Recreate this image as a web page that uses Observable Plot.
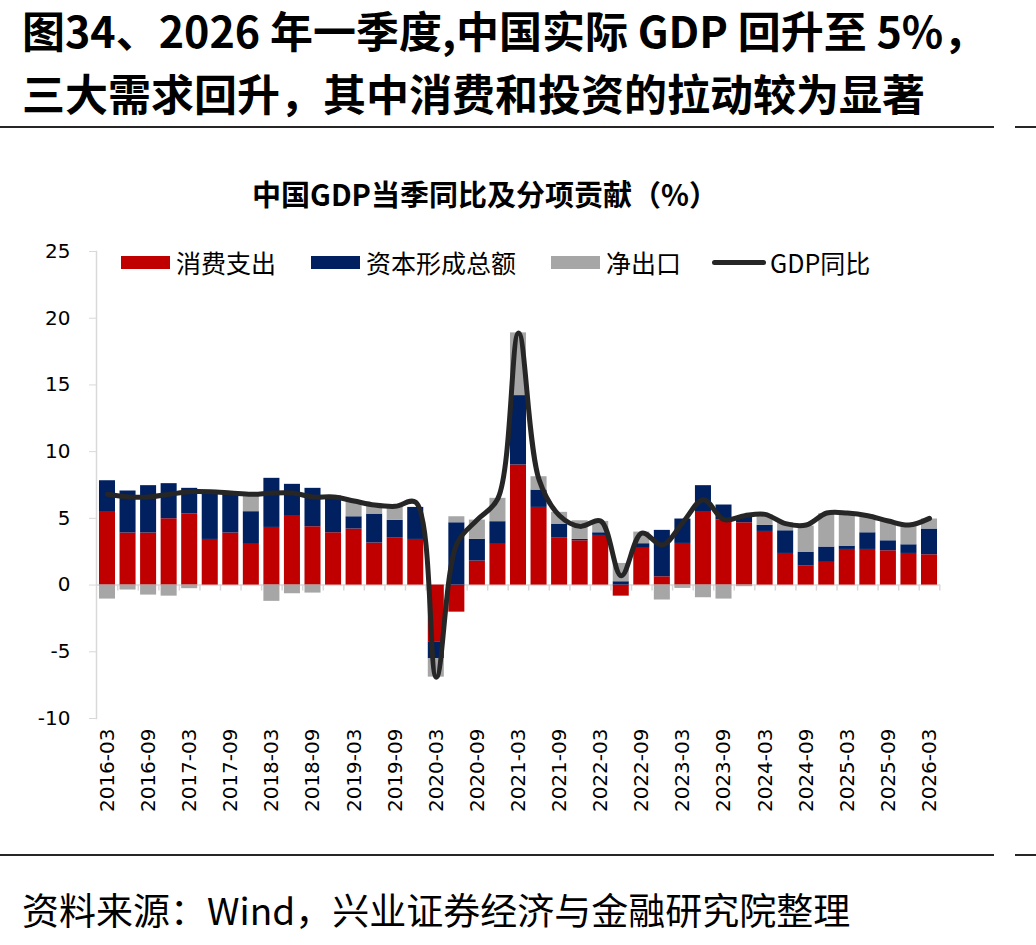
<!DOCTYPE html>
<html>
<head>
<meta charset="utf-8">
<script src="https://cdn.jsdelivr.net/npm/d3@7"></script>
<script src="https://cdn.jsdelivr.net/npm/@observablehq/plot@0.6"></script>
<style>
  body { margin: 0; background: #fff; width: 1036px; height: 945px; position: relative; overflow: hidden;
         font-family: "Noto Sans CJK SC", "Noto Sans", sans-serif; color: #000; }
  .title { position: absolute; left: 22px; font-size: 43px; font-weight: bold; line-height: 1; white-space: nowrap; }
  .rule { position: absolute; height: 2px; background: #262626; }
  .subtitle { position: absolute; left: 0; width: 970px; text-align: center; top: 179px;
              font-size: 29px; font-weight: bold; line-height: 1; white-space: nowrap; }
  .legend { position: absolute; top: 246px; left: 0; width: 1036px; height: 32px; z-index: 2; }
  .legend .item { position: absolute; top: 0; height: 32px; display: flex; align-items: center; }
  .legend .sw { width: 49px; height: 13px; margin-right: 6px; }
  .legend .ln { width: 54px; height: 5px; border-radius: 3px; background: #262626; margin-right: 4px; }
  .legend span { font-size: 25px; line-height: 1; white-space: nowrap; }
  .source { position: absolute; left: 22px; top: 891px; font-size: 37px; line-height: 1; white-space: nowrap; }
  #chart { position: absolute; left: 0; top: 230px; z-index: 1; }
</style>
</head>
<body>
<div class="title" style="top:8px">图34、2026 年一季度,中国实际 GDP 回升至 5%，</div>
<div class="title" style="top:71px">三大需求回升，其中消费和投资的拉动较为显著</div>
<div class="rule" style="top:126px;left:0;width:994px"></div>
<div class="rule" style="top:126px;left:1015px;width:21px"></div>

<div class="subtitle">中国GDP当季同比及分项贡献（%）</div>
<div id="chart"></div>
<div class="legend" id="legend"></div>

<div class="rule" style="top:854px;left:0;width:994px"></div>
<div class="rule" style="top:854px;left:1015px;width:21px"></div>
<div class="source">资料来源：Wind，兴业证券经济与金融研究院整理</div>

<script>
// Quarter-end months, 2016Q1 through 2026Q1
const quarters = [
  "2016-03","2016-06","2016-09","2016-12",
  "2017-03","2017-06","2017-09","2017-12",
  "2018-03","2018-06","2018-09","2018-12",
  "2019-03","2019-06","2019-09","2019-12",
  "2020-03","2020-06","2020-09","2020-12",
  "2021-03","2021-06","2021-09","2021-12",
  "2022-03","2022-06","2022-09","2022-12",
  "2023-03","2023-06","2023-09","2023-12",
  "2024-03","2024-06","2024-09","2024-12",
  "2025-03","2025-06","2025-09","2025-12",
  "2026-03"
];

// Contributions to GDP growth, percentage points
const consumption = [
  5.45, 3.90, 3.90, 4.97,
  5.34, 3.42, 3.90, 3.05,
  4.32, 5.15, 4.37, 3.92,
  4.20, 3.15, 3.55, 3.42,
  -4.25, -2.03, 1.80, 3.05,
  9.00, 5.82, 3.55, 3.32,
  3.72, -0.83, 2.75, 0.62,
  3.12, 5.45, 4.87, 4.67,
  4.02, 2.37, 1.42, 1.70,
  2.67, 2.67, 2.57, 2.37,
  2.27
];
const capital = [
  2.37, 3.15, 3.55, 2.63,
  1.91, 3.58, 3.00, 2.45,
  3.68, 2.40, 2.88, 2.75,
  0.92, 2.17, 1.30, 2.40,
  -1.28, 4.67, 1.62, 1.70,
  5.20, 1.30, 1.02, 0.10,
  0.20, 0.25, 0.35, 3.48,
  1.83, 2.00, 1.13, 0.45,
  0.45, 1.70, 1.05, 1.15,
  0.25, 1.25, 0.75, 0.65,
  1.93
];
const netExports = [
  -1.05, -0.37, -0.75, -0.83,
  -0.27, 0.00, 0.00, 1.35,
  -1.22, -0.65, -0.60, 0.00,
  1.20, 0.60, 1.05, 0.00,
  -1.37, 0.45, 1.45, 1.75,
  4.70, 1.00, 0.88, 1.40,
  0.85, 1.37, 0.87, -1.12,
  -0.25, -0.95, -1.05, -0.12,
  0.80, 0.60, 1.95, 2.50,
  2.45, 1.25, 1.45, 1.45,
  0.75
];
// Real GDP, year-on-year %
const gdp = [
  6.8, 6.6, 6.6, 6.8,
  7.0, 7.0, 6.9, 6.8,
  6.9, 6.9, 6.6, 6.6,
  6.3, 6.0, 5.9, 6.2,
  -6.9, 3.1, 4.9, 6.5,
  18.9, 7.9, 5.2, 4.4,
  4.8, 0.7, 3.9, 3.0,
  4.7, 6.4, 4.9, 5.2,
  5.3, 4.6, 4.5, 5.4,
  5.4, 5.2, 4.8, 4.5,
  5.0
];

const seriesNames = ["消费支出", "资本形成总额", "净出口"];
const seriesColors = ["#C00000", "#002060", "#A6A6A6"];
const lineName = "GDP同比";
const lineColor = "#262626";
const yTicks = [-10, -5, 0, 5, 10, 15, 20, 25];
const xTicks = quarters.filter(q => q.endsWith("-03") || q.endsWith("-09"));

// Long-format rows, series by series so each quarter stacks 消费 → 资本 → 净出口
const bars = [];
[consumption, capital, netExports].forEach((vals, s) =>
  vals.forEach((v, i) => bars.push({quarter: quarters[i], series: seriesNames[s], value: v}))
);
const growth = quarters.map((q, i) => ({quarter: q, value: gdp[i]}));

const axisGrey = "#d9d9d9";

const chart = Plot.plot({
  width: 1036,
  height: 600,
  marginTop: 21,
  marginBottom: 112,
  marginLeft: 96,
  marginRight: 96,
  style: {fontFamily: "'DejaVu Sans', sans-serif", fontSize: "20px", color: "#000", background: "transparent"},
  x: {type: "band", domain: quarters, paddingInner: 0.22, paddingOuter: 0.145, round: false},
  y: {domain: [-10, 25]},
  color: {domain: seriesNames, range: seriesColors},
  marks: [
    Plot.frame({anchor: "left", stroke: axisGrey, strokeWidth: 1.5}),
    Plot.ruleY([0], {stroke: axisGrey, strokeWidth: 1.5}),
    // category boundary ticks hanging below the zero line
    Plot.ruleX(quarters, {x: d => d, y1: 0, y2: -0.45, dx: 10.27, stroke: axisGrey, strokeWidth: 1.5}),
    Plot.barY(bars, {x: "quarter", y: "value", fill: "series"}),
    Plot.line(growth, {x: "quarter", y: "value", stroke: lineColor, strokeWidth: 5, curve: "catmull-rom"}),
    Plot.axisY({ticks: yTicks, tickFormat: d => String(d), tickSize: 7, tickPadding: 19,
                stroke: axisGrey, fill: "#000", label: null, fontSize: 20}),
    Plot.axisX({ticks: xTicks, tickSize: 0, tickPadding: 10, tickRotate: -90, fill: "#000", label: null, fontSize: 20})
  ]
});
document.getElementById("chart").appendChild(chart);

// Legend row
const legend = document.getElementById("legend");
const items = [
  {label: seriesNames[0], color: seriesColors[0], left: 121},
  {label: seriesNames[1], color: seriesColors[1], left: 311},
  {label: seriesNames[2], color: seriesColors[2], left: 551},
  {label: lineName, color: lineColor, left: 712, line: true}
];
for (const it of items) {
  const div = document.createElement("div");
  div.className = "item";
  div.style.left = it.left + "px";
  const sw = document.createElement("div");
  sw.className = it.line ? "ln" : "sw";
  sw.style.background = it.color;
  const tx = document.createElement("span");
  tx.textContent = it.label;
  div.appendChild(sw);
  div.appendChild(tx);
  legend.appendChild(div);
}
</script>
</body>
</html>
